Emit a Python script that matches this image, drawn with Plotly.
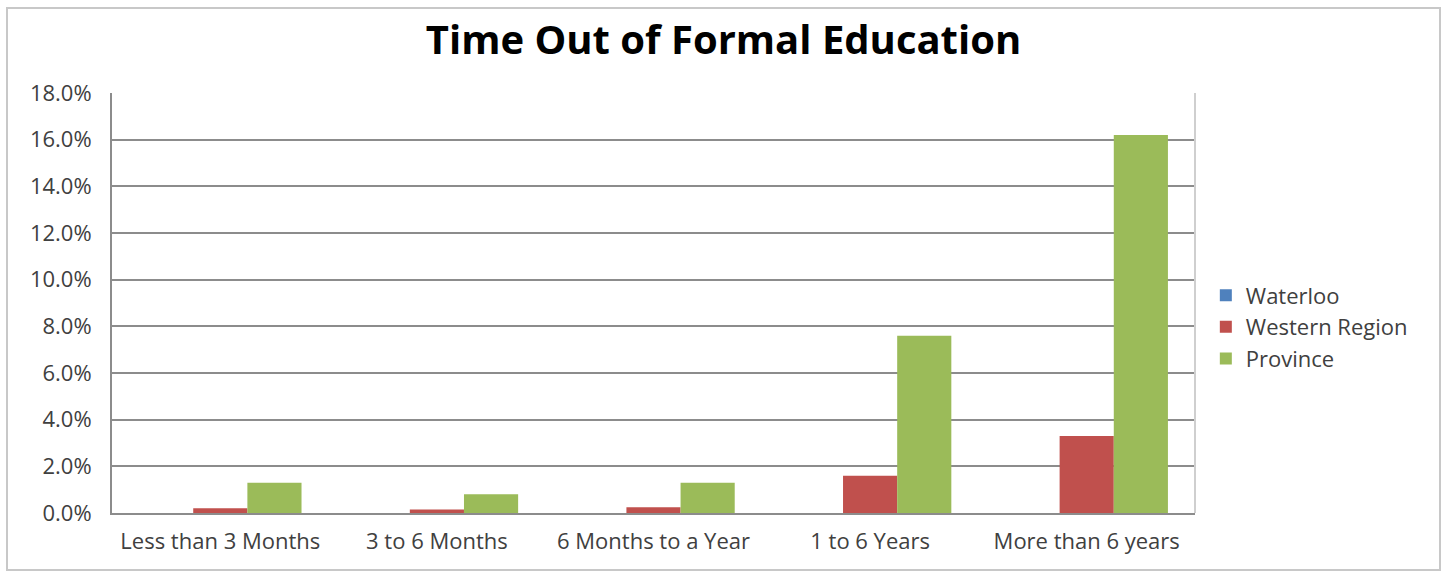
import plotly.graph_objects as go

categories = ["Less than 3 Months", "3 to 6 Months", "6 Months to a Year",
              "1 to 6 Years", "More than 6 years"]
waterloo = [0.0, 0.0, 0.0, 0.0, 0.0]
western_region = [0.2, 0.15, 0.25, 1.6, 3.3]
province = [1.3, 0.8, 1.3, 7.6, 16.2]
y_ticks = [0, 2, 4, 6, 8, 10, 12, 14, 16, 18]

series = [
    ("Waterloo", waterloo, "#4F81BD"),
    ("Western Region", western_region, "#C0504D"),
    ("Province", province, "#9BBB59"),
]

FONT = "Open Sans"
TEXT = "#404040"
GRID = "#8c8c8c"

fig = go.Figure()
for i, (name, vals, color) in enumerate(series):
    fig.add_trace(go.Bar(
        x=categories, y=vals, name=name,
        marker=dict(color=color, line=dict(width=0)),
        legendgroup=f"g{i}",
    ))

fig.update_layout(
    width=1447, height=577,
    margin=dict(l=112, r=252, t=93, b=64),
    paper_bgcolor="white", plot_bgcolor="white",
    barmode="group", bargap=0.25, bargroupgap=0,
    title=dict(text="<b>Time Out of Formal Education</b>",
               x=0.5, xanchor="center", xref="container",
               y=1 - 40 / 577, yanchor="middle",
               font=dict(family=FONT, size=40, color="black")),
    font=dict(family=FONT, color=TEXT),
    legend=dict(x=1.01, xanchor="left", y=0.443, yanchor="middle",
                font=dict(family=FONT, size=22, color=TEXT),
                tracegroupgap=0, itemwidth=30,
                bgcolor="rgba(0,0,0,0)"),
    xaxis=dict(showgrid=False, showline=True, linecolor=GRID, linewidth=2,
               tickfont=dict(size=22, color=TEXT), ticks="",
               ticklabelstandoff=8),
    yaxis=dict(range=[0, 18], tickvals=y_ticks,
               ticktext=[f"{v:.1f}%" for v in y_ticks],
               showgrid=True, gridcolor=GRID, gridwidth=2,
               showline=True, linecolor=GRID, linewidth=2,
               zeroline=False, ticks="",
               tickfont=dict(size=22, color=TEXT),
               ticklabelstandoff=14),
    shapes=[
        # outer chart frame
        dict(type="rect", xref="paper", yref="paper",
             x0=-105 / 1083, x1=1328 / 1083, y0=-57 / 420, y1=1 + 85 / 420,
             line=dict(color="#c8c8c8", width=2), layer="below"),
        # plot-area right edge
        dict(type="line", xref="paper", yref="paper",
             x0=1, x1=1, y0=0, y1=1,
             line=dict(color="#cfcfcf", width=2)),
    ],
)

fig.write_html("out.html")
